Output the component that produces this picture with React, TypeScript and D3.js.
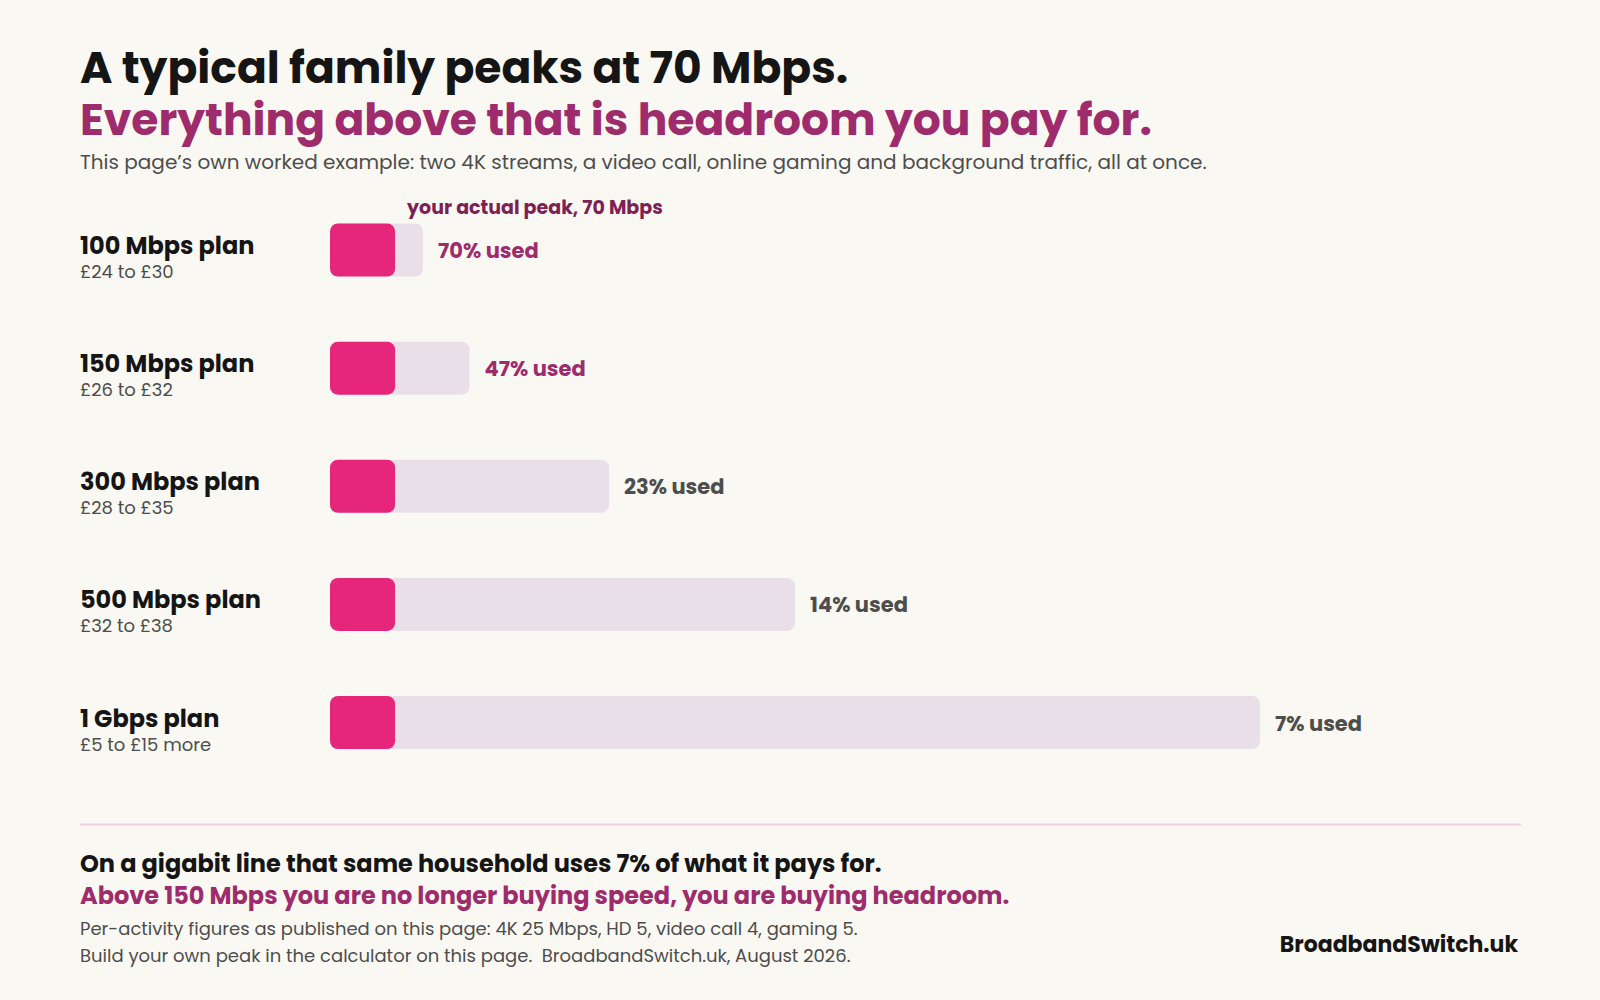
import React from "react";
import * as d3 from "d3";

const plans = ["100 Mbps plan", "150 Mbps plan", "300 Mbps plan", "500 Mbps plan", "1 Gbps plan"];
const planSpeeds = [100, 150, 300, 500, 1000];
const planPrices = ["£24 to £30", "£26 to £32", "£28 to £35", "£32 to £38", "£5 to £15 more"];
const usedPct = [70, 47, 23, 14, 7];
const peakMbps = 70;

const W = 1600;
const H = 1000;
const FONT = "Poppins, 'Open Sans', 'Noto Sans', sans-serif";
const BG = "#faf8f3";
const PINK = "#e5267a";
const TRACK = "#e9dfe8";
const PURPLE = "#9e2b6b";
const DARKPURPLE = "#7e1f55";
const INK = "#151515";
const GREY = "#4d4d4d";

export default function App() {
  const x = d3.scaleLinear().domain([0, 1000]).range([330, 1260]);
  const y = d3.scalePoint<string>().domain(plans).range([250, 722.5]);
  const barH = 53;
  return (
    <svg width={W} height={H} style={{ display: "block", position: "absolute", left: 0, top: 0 }} fontFamily={FONT}>
      <rect x={0} y={0} width={W} height={H} fill={BG} />
      <text x={80} y={83} fontSize={44} fontWeight={700} fill={INK}>A typical family peaks at 70 Mbps.</text>
      <text x={80} y={135} fontSize={44} fontWeight={700} fill={PURPLE}>Everything above that is headroom you pay for.</text>
      <text x={80} y={169} fontSize={20} fill={GREY}>This page’s own worked example: two 4K streams, a video call, online gaming and background traffic, all at once.</text>
      <text x={x(peakMbps) + 12} y={214} fontSize={19} fontWeight={700} fill={DARKPURPLE}>your actual peak, 70 Mbps</text>
      {plans.map((p, i) => {
        const cy = y(p)!;
        return (
          <g key={p}>
            <text x={80} y={cy + 4} fontSize={24} fontWeight={700} fill={INK}>{p}</text>
            <text x={80} y={cy + 28} fontSize={18} fill={GREY}>{planPrices[i]}</text>
            <rect x={x(0)} y={cy - barH / 2} width={x(planSpeeds[i]) - x(0)} height={barH} rx={8} fill={TRACK} />
            <rect x={x(0)} y={cy - barH / 2} width={x(peakMbps) - x(0)} height={barH} rx={8} fill={PINK} />
            <text x={x(planSpeeds[i]) + 15} y={cy + 8} fontSize={21} fontWeight={700} fill={usedPct[i] >= 40 ? PURPLE : GREY}>{usedPct[i]}% used</text>
          </g>
        );
      })}
      <line x1={80} x2={1521} y1={824.5} y2={824.5} stroke="#ecd0df" strokeWidth={2} />
      <text x={80} y={872} fontSize={24} fontWeight={700} fill={INK}>On a gigabit line that same household uses 7% of what it pays for.</text>
      <text x={80} y={904} fontSize={24} fontWeight={700} fill={PURPLE}>Above 150 Mbps you are no longer buying speed, you are buying headroom.</text>
      <text x={80} y={935} fontSize={18} fill={GREY}>Per-activity figures as published on this page: 4K 25 Mbps, HD 5, video call 4, gaming 5.</text>
      <text x={80} y={962} fontSize={18} fill={GREY} style={{ whiteSpace: "pre" }}>Build your own peak in the calculator on this page.  BroadbandSwitch.uk, August 2026.</text>
      <text x={1518} y={952} fontSize={22} fontWeight={700} fill={INK} textAnchor="end">BroadbandSwitch.uk</text>
    </svg>
  );
}
